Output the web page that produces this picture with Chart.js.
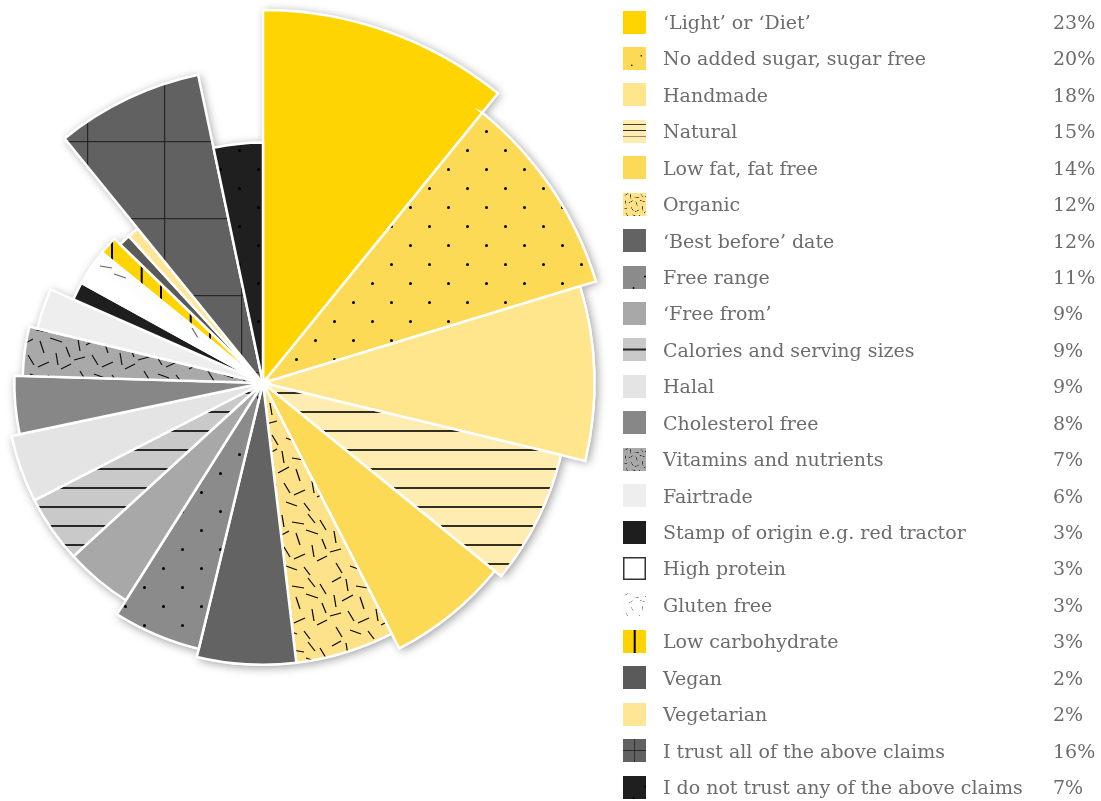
<!DOCTYPE html>
<html>
<head>
<meta charset="utf-8">
<script src="https://cdn.jsdelivr.net/npm/chart.js@4/dist/chart.umd.min.js"></script>
<style>
  html, body { margin: 0; padding: 0; background: #fff; width: 1101px; height: 801px; overflow: hidden; }
  #chartBox { position: absolute; left: -120px; top: 0; width: 766px; height: 766px; }
  #legend { position: absolute; left: 623px; top: 0; width: 478px; height: 801px;
            font-family: "DejaVu Serif", serif; font-size: 19px; color: #6c6c6c; }
  .row { position: absolute; left: 0; height: 36px; width: 478px; }
  .row canvas { position: absolute; left: 0; top: 6.5px; }
  .row .lab { position: absolute; left: 40px; top: 0; line-height: 36px; white-space: nowrap; }
  .row .pct { position: absolute; left: 430px; top: 0; line-height: 36px; }
</style>
</head>
<body>
<div id="chartBox"><canvas id="claims"></canvas></div>
<div id="legend"></div>
<script>
// categories in drawing order (clockwise from 12 o'clock)
const categories = [
  "‘Light’ or ‘Diet’", "No added sugar, sugar free", "Handmade", "Natural",
  "Low fat, fat free", "Organic", "‘Best before’ date", "Free range",
  "‘Free from’", "Calories and serving sizes", "Halal", "Cholesterol free",
  "Vitamins and nutrients", "Fairtrade", "Stamp of origin e.g. red tractor",
  "High protein", "Gluten free", "Low carbohydrate", "Vegan", "Vegetarian",
  "I trust all of the above claims", "I do not trust any of the above claims"
];
const values = [23, 20, 18, 15, 14, 12, 12, 11, 9, 9, 9, 8, 7, 6, 3, 3, 3, 3, 2, 2, 16, 7];
const valueLabels = values.map(v => v + "%");

// slice looks: base colour + optional texture; sw = legend swatch pattern transform [scale, tx, ty]
const styles = [
  { base: "#FFD400" },
  { base: "#FDDA55", kind: "dots", ink: "#000", sw: [0.5, 0, 0] },
  { base: "#FFE58C" },
  { base: "#FFECB0", kind: "hlines", ink: "#000", sw: [0.33, 0, 0] },
  { base: "#FDDA55" },
  { base: "#FDE28A", kind: "dashes", ink: "#000", sw: [0.4, 0, 0] },
  { base: "#636363" },
  { base: "#8B8B8B", kind: "dots", ink: "#000", sw: [0.6, 0, 0] },
  { base: "#A8A8A8" },
  { base: "#C9C9C9", kind: "hlines", ink: "#000", sw: [1, 0, -1.5] },
  { base: "#E4E4E4" },
  { base: "#878787" },
  { base: "#A9A9A9", kind: "dashes", ink: "#111", sw: [0.4, 0, 0] },
  { base: "#EEEEEE" },
  { base: "#1E1E1E" },
  { base: "#FFFFFF", outline: true },
  { base: "#FDFDFD", kind: "sparse", ink: "#666", sw: [0.4, 0, 0] },
  { base: "#FFD400", kind: "vlines", ink: "#000", sw: [1, -5, 0] },
  { base: "#5A5A5A" },
  { base: "#FFE697" },
  { base: "#616161", kind: "grid", ink: "#262626", sw: [0.3, -4.5, -7.9] },
  { base: "#1F1F1F", kind: "dots", ink: "#000", sw: [0.6, 0, 0] }
];

// short strokes for the scribbled textures (one 64px tile)
const dashSegs = [
  [4, 6, 13, 1], [18, 3, 20, 15], [28, 10, 40, 12], [44, 2, 51, 11], [56, 8, 62, 18],
  [6, 19, 8, 31], [14, 25, 25, 19], [32, 21, 36, 33], [42, 18, 54, 22],
  [2, 40, 13, 37], [20, 35, 26, 45], [30, 47, 41, 42], [48, 33, 50, 45], [53, 49, 63, 44],
  [8, 51, 14, 61], [22, 54, 33, 58], [40, 55, 46, 63], [58, 27, 62, 37]
];

function makeTile(st) {
  const sizes = { dots: [38, 38], hlines: [20, 19], vlines: [49, 10], grid: [77, 77], dashes: [64, 64], sparse: [64, 64] };
  const [w, h] = sizes[st.kind];
  const c = document.createElement("canvas");
  c.width = w; c.height = h;
  const g = c.getContext("2d");
  g.fillStyle = st.base;
  g.fillRect(0, 0, w, h);
  g.fillStyle = g.strokeStyle = st.ink;
  if (st.kind === "dots") {
    [[36.5, 17.5], [17.5, 36.5]].forEach(([x, y]) => {
      for (const dx of [-w, 0, w]) for (const dy of [-h, 0, h]) {
        g.beginPath(); g.arc(x + dx, y + dy, 1.5, 0, Math.PI * 2); g.fill();
      }
    });
  } else if (st.kind === "hlines") {
    g.fillRect(0, 12.2, w, 1.6);
  } else if (st.kind === "vlines") {
    g.fillRect(15.7, 0, 2, h);
    g.fillRect(35, 0, 2, h);
  } else if (st.kind === "grid") {
    g.fillRect(53, 0, 1.2, h);
    g.fillRect(0, 64, w, 1.2);
  } else {
    g.lineWidth = 1.2;
    dashSegs.forEach((s, i) => {
      if (st.kind === "sparse" && i % 2) return;
      g.beginPath(); g.moveTo(s[0], s[1]); g.lineTo(s[2], s[3]); g.stroke();
    });
  }
  return c;
}

function fillFor(st, ctx) {
  if (!st.kind) return st.base;
  return ctx.createPattern(makeTile(st), "repeat");
}

const canvas = document.getElementById("claims");
const ctx0 = canvas.getContext("2d");
const fills = styles.map(st => fillFor(st, ctx0));
const total = values.reduce((a, b) => a + b, 0);
const angles = values.map(v => v * 360 / total);

// soft drop shadow under the whole fan, drawn before the slices
const shadowPlugin = {
  id: "sliceShadow",
  beforeDatasetsDraw(chart) {
    const ctx = chart.ctx;
    const arcs = chart.getDatasetMeta(0).data;
    ctx.save();
    ctx.shadowColor = "rgba(0,0,0,0.38)";
    ctx.shadowBlur = 10;
    ctx.shadowOffsetX = 2;
    ctx.shadowOffsetY = 2;
    ctx.fillStyle = "#fff";
    arcs.forEach(a => {
      const p = a.getProps(["x", "y", "startAngle", "endAngle", "outerRadius"], true);
      ctx.beginPath();
      ctx.moveTo(p.x, p.y);
      ctx.arc(p.x, p.y, p.outerRadius + 1, p.startAngle, p.endAngle);
      ctx.closePath();
      ctx.fill();
    });
    ctx.restore();
  }
};

new Chart(canvas, {
  type: "polarArea",
  data: {
    labels: categories,
    datasets: [{
      data: values,
      angle: angles,
      backgroundColor: fills,
      borderColor: "#fff",
      borderWidth: 2.5,
      borderJoinStyle: "miter"
    }]
  },
  options: {
    responsive: true,
    maintainAspectRatio: false,
    animation: false,
    layout: { padding: 10 },
    events: [],
    plugins: { legend: { display: false }, tooltip: { enabled: false } },
    scales: {
      r: { display: false, min: -22, max: 23, beginAtZero: false, startAngle: 0 }
    }
  },
  plugins: [shadowPlugin]
});

// legend
const legend = document.getElementById("legend");
const ROW0 = 4, ROWH = 36.43;
categories.forEach((name, i) => {
  const st = styles[i];
  const row = document.createElement("div");
  row.className = "row";
  row.style.top = (ROW0 + i * ROWH) + "px";

  const sw = document.createElement("canvas");
  sw.width = 23; sw.height = 23;
  const g = sw.getContext("2d");
  if (st.kind) {
    const pat = g.createPattern(makeTile(st), "repeat");
    const [s, tx, ty] = st.sw;
    pat.setTransform(new DOMMatrix().translate(tx, ty).scale(s));
    g.fillStyle = pat;
  } else {
    g.fillStyle = st.base;
  }
  g.fillRect(0, 0, 23, 23);
  if (st.outline) {
    g.strokeStyle = "#333";
    g.lineWidth = 1.5;
    g.strokeRect(0.75, 0.75, 21.5, 21.5);
  }

  const lab = document.createElement("span");
  lab.className = "lab";
  lab.textContent = name;
  const pct = document.createElement("span");
  pct.className = "pct";
  pct.textContent = valueLabels[i];

  row.append(sw, lab, pct);
  legend.appendChild(row);
});
</script>
</body>
</html>
